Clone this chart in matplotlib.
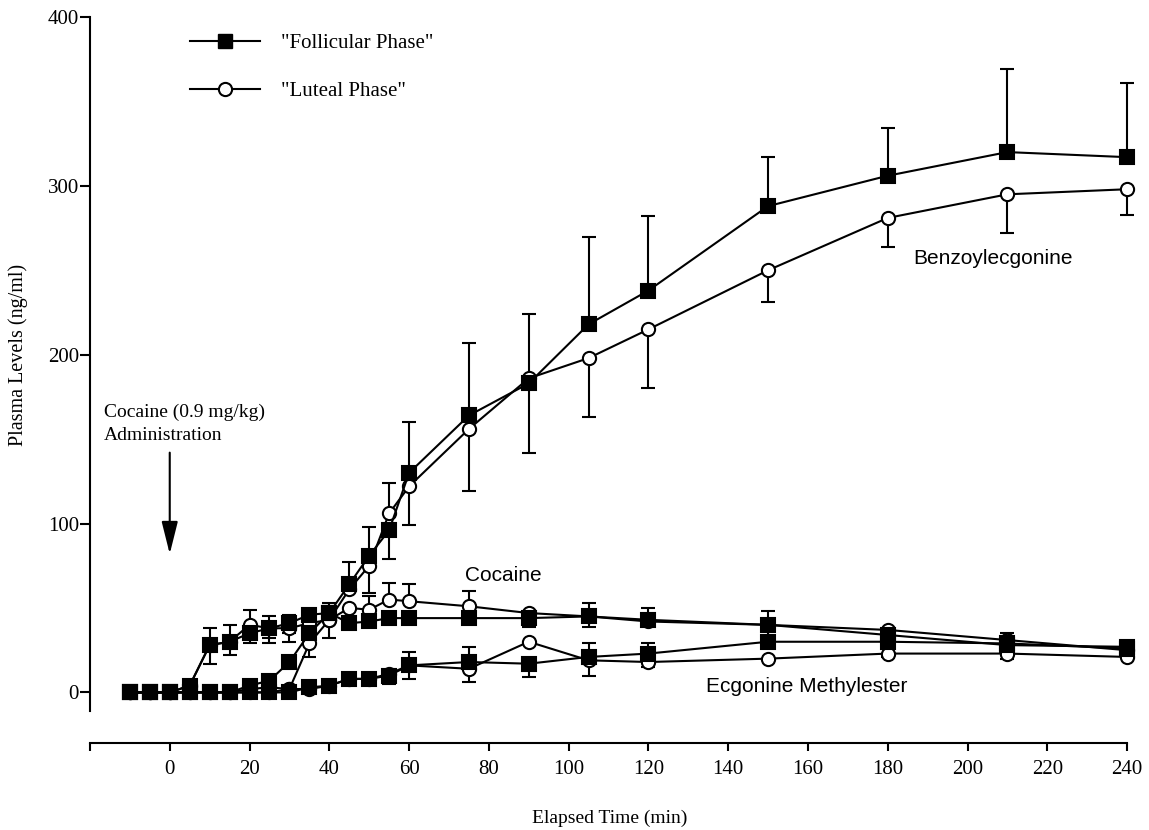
import numpy as np
import matplotlib
matplotlib.use("Agg")
import matplotlib.pyplot as plt
from matplotlib.lines import Line2D

# sampling times (min)
time = [-10, -5, 0, 5, 10, 15, 20, 25, 30, 35, 40, 45, 50, 55, 60,
        75, 90, 105, 120, 150, 180, 210, 240]

# Benzoylecgonine
benzo_foll = [0, 0, 0, 0, 0, 0, 4, 7, 18, 35, 47, 64, 81, 96, 130,
              164, 183, 218, 238, 288, 306, 320, 317]
benzo_foll_up = [0, 0, 0, 0, 0, 0, 0, 0, 0, 0, 6, 13, 17, 0, 30,
                 43, 41, 52, 44, 29, 28, 49, 44]
benzo_foll_dn = [0, 0, 0, 0, 0, 0, 0, 0, 0, 0, 0, 0, 0, 17, 0,
                 0, 0, 0, 0, 0, 0, 0, 0]
benzo_lut = [0, 0, 0, 0, 0, 0, 2, 3, 2, 29, 43, 61, 75, 106, 122,
             156, 186, 198, 215, 250, 281, 295, 298]
benzo_lut_up = [0, 0, 0, 0, 0, 0, 0, 0, 0, 0, 0, 0, 0, 18, 0,
                0, 0, 0, 0, 0, 0, 0, 0]
benzo_lut_dn = [0, 0, 0, 0, 0, 0, 0, 0, 0, 8, 11, 0, 16, 0, 23,
                37, 44, 35, 35, 19, 17, 23, 15]

# Cocaine
coc_foll = [0, 0, 0, 4, 28, 30, 35, 38, 41, 46, 47, 41, 42, 44, 44,
            44, 44, 45, 43, 40, 34, 28, 27]
coc_foll_up = [0, 0, 0, 0, 10, 10, 0, 0, 0, 0, 0, 0, 0, 0, 0,
               0, 0, 8, 7, 8, 0, 0, 0]
coc_foll_dn = [0, 0, 0, 0, 11, 8, 6, 9, 6, 0, 0, 0, 0, 0, 0,
               0, 0, 6, 0, 0, 0, 0, 0]
coc_lut = [0, 0, 0, 4, 28, 30, 40, 38, 38, 41, 43, 50, 49, 55, 54,
           51, 47, 45, 42, 40, 37, 31, 25]
coc_lut_up = [0, 0, 0, 0, 0, 0, 9, 7, 8, 7, 8, 0, 8, 10, 10,
              9, 0, 0, 0, 0, 0, 4, 0]
coc_lut_dn = [0, 0, 0, 0, 0, 0, 0, 6, 8, 0, 0, 0, 0, 0, 0,
              0, 8, 0, 0, 0, 3, 3, 0]

# Ecgonine Methylester
em_foll = [0, 0, 0, 0, 0, 0, 0, 0, 0, 3, 4, 8, 8, 10, 16,
           18, 17, 21, 23, 30, 30, 29, 26]
em_foll_up = [0, 0, 0, 0, 0, 0, 0, 0, 0, 0, 0, 0, 0, 3, 8,
              9, 0, 8, 6, 8, 0, 0, 0]
em_foll_dn = [0, 0, 0, 0, 0, 0, 0, 0, 0, 0, 0, 0, 0, 0, 0,
              0, 8, 0, 0, 0, 0, 0, 0]
em_lut = [0, 0, 0, 0, 0, 0, 0, 0, 2, 2, 4, 8, 8, 11, 16,
          14, 30, 19, 18, 20, 23, 23, 21]
em_lut_up = [0] * 23
em_lut_dn = [0, 0, 0, 0, 0, 0, 0, 0, 0, 0, 0, 0, 0, 6, 8,
             8, 0, 9, 3, 0, 2, 3, 0]

x_ticks = [-20, 0, 20, 40, 60, 80, 100, 120, 140, 160, 180, 200, 220, 240]
x_labels = [""] + [str(v) for v in x_ticks[1:]]
y_ticks = [0, 100, 200, 300, 400]

serif = "Liberation Serif"
sans = "Liberation Sans"

fig = plt.figure(figsize=(11.49, 8.30), dpi=100)
ax = fig.add_axes([0.0783, 0.1434, 0.9026, 0.8361])

t = np.array(time, float)


def draw(y, up, dn, marker, face, ms):
    y = np.array(y, float)
    up = np.array(up, float)
    dn = np.array(dn, float)
    m = (up > 0) | (dn > 0)
    ax.errorbar(t[m], y[m], yerr=[dn[m], up[m]], fmt="none", ecolor="black",
                elinewidth=1.5, capsize=5, capthick=1.5, zorder=2, clip_on=False)
    ax.plot(t, y, color="black", lw=1.5, marker=marker, ms=ms, mfc=face,
            mec="black", mew=1.5, zorder=3, clip_on=False)


for yv, up, dn in [(benzo_lut, benzo_lut_up, benzo_lut_dn),
                   (coc_lut, coc_lut_up, coc_lut_dn),
                   (em_lut, em_lut_up, em_lut_dn)]:
    draw(yv, up, dn, "o", "white", 9.5)
for yv, up, dn in [(benzo_foll, benzo_foll_up, benzo_foll_dn),
                   (coc_foll, coc_foll_up, coc_foll_dn),
                   (em_foll, em_foll_up, em_foll_dn)]:
    draw(yv, up, dn, "s", "black", 10.5)

ax.set_xlim(-20, 240)
ax.set_ylim(-11, 400)

for s in ["top", "right"]:
    ax.spines[s].set_visible(False)
ax.spines["left"].set_linewidth(1.5)
ax.spines["bottom"].set_linewidth(1.5)
ax.spines["bottom"].set_position(("outward", 23))

ax.set_xticks(x_ticks)
ax.set_xticklabels(x_labels)
ax.set_yticks(y_ticks)
ax.tick_params(axis="x", direction="out", length=6, width=1.5, pad=6)
ax.tick_params(axis="y", direction="out", length=7, width=1.5, pad=1)
for lab in ax.get_xticklabels() + ax.get_yticklabels():
    lab.set_fontfamily(serif)
    lab.set_fontsize(15)

# legend
handles = [Line2D([], [], color="black", lw=1.5, marker="s", ms=10.5, mfc="black", mec="black"),
           Line2D([], [], color="black", lw=1.5, marker="o", ms=9.5, mfc="white", mec="black", mew=1.5)]
ax.legend(handles, ['"Follicular Phase"', '"Luteal Phase"'], loc="upper left",
          bbox_to_anchor=(0.078, 1.003), frameon=False, handlelength=3.4,
          handletextpad=1.0, labelspacing=1.35, prop={"family": serif, "size": 15})

# compound labels
ax.text(186.4, 257, "Benzoylecgonine", family=sans, fontsize=15, ha="left", va="center")
ax.text(74, 69, "Cocaine", family=sans, fontsize=15, ha="left", va="center")
ax.text(134.4, 3.5, "Ecgonine Methylester", family=sans, fontsize=15, ha="left", va="center")

# administration marker
ax.text(-16.5, 159, "Cocaine (0.9 mg/kg)\nAdministration", family=serif, fontsize=14,
        ha="left", va="center", linespacing=1.4)
ax.annotate("", xy=(0, 82), xytext=(0, 142),
            arrowprops=dict(arrowstyle="-|>,head_length=0.8,head_width=0.2", color="black",
                            lw=1.5, mutation_scale=25, shrinkA=0, shrinkB=0))

fig.text(18 / 1149, 1 - 355 / 830, "Plasma Levels (ng/ml)", rotation=90,
         ha="center", va="center", family=serif, fontsize=14.5)
fig.text(610 / 1149, 1 - 818 / 830, "Elapsed Time (min)", ha="center", va="center",
         family=serif, fontsize=14)

fig.savefig("out.png", dpi=100)
